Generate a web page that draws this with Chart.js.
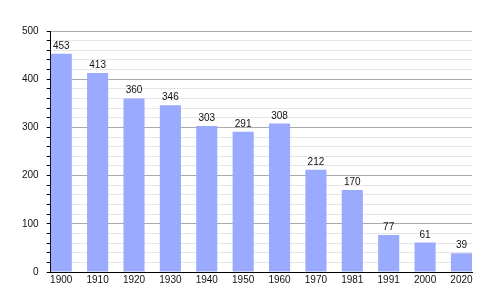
<!DOCTYPE html>
<html>
<head>
<meta charset="utf-8">
<script src="https://cdn.jsdelivr.net/npm/chart.js@4/dist/chart.umd.min.js"></script>
<style>
html, body { margin: 0; padding: 0; background: #fff; }
#c { display: block; }
</style>
</head>
<body>
<canvas id="c" width="500" height="300"></canvas>
<script>
const years = ['1900','1910','1920','1930','1940','1950','1960','1970','1981','1991','2000','2020'];
const population = [453, 413, 360, 346, 303, 291, 308, 212, 170, 77, 61, 39];
const yTickLabels = ['0','100','200','300','400','500'];

const FONT = "'Liberation Sans', Arial, sans-serif";
const points = population.map((v, i) => ({ x: i, y: v }));
const X_MIN = -0.29, X_MAX = years.length - 1 + 0.29;

const valueLabels = {
  id: 'valueLabels',
  afterDatasetsDraw(chart) {
    const ctx = chart.ctx;
    const meta = chart.getDatasetMeta(0);
    ctx.save();
    ctx.font = '10px ' + FONT;
    ctx.fillStyle = '#111';
    ctx.textAlign = 'center';
    ctx.textBaseline = 'alphabetic';
    meta.data.forEach((bar, i) => {
      ctx.fillText(String(population[i]), bar.x, bar.y - 5);
    });
    ctx.restore();
  }
};

new Chart(document.getElementById('c'), {
  type: 'bar',
  data: {
    datasets: [{
      data: points,
      backgroundColor: '#99aaff',
      borderWidth: 0,
      barPercentage: 0.58,
      categoryPercentage: 1
    }]
  },
  options: {
    responsive: false,
    animation: false,
    layout: { padding: { top: 31, right: 28, bottom: 12, left: 14 } },
    plugins: { legend: { display: false }, tooltip: { enabled: false } },
    scales: {
      x: {
        type: 'linear',
        min: X_MIN,
        max: X_MAX,
        offset: false,
        bounds: 'data',
        afterDataLimits: (s) => { s.min = X_MIN; s.max = X_MAX; },
        afterBuildTicks: (s) => { s.ticks = years.map((_, i) => ({ value: i })); },
        grid: { display: false, drawTicks: false, offset: false },
        border: { display: true, color: '#000', width: 1 },
        ticks: {
          autoSkip: false,
          maxRotation: 0,
          padding: 2,
          color: '#111',
          font: { family: FONT, size: 10 },
          callback: (v) => years[Math.round(v)] ?? ''
        }
      },
      y: {
        min: 0,
        max: 500,
        grid: {
          color: (c) => (c.tick && c.tick.value % 100 === 0) ? '#aaaaaa' : '#e6e6e6',
          tickColor: '#000',
          tickLength: 4,
          lineWidth: 1
        },
        border: { display: true, color: '#000', width: 1 },
        ticks: {
          stepSize: 20,
          autoSkip: false,
          padding: 8,
          color: '#111',
          font: { family: FONT, size: 10 },
          callback: (v) => (v % 100 === 0) ? yTickLabels[v / 100] : ''
        }
      }
    }
  },
  plugins: [valueLabels]
});
</script>
</body>
</html>
